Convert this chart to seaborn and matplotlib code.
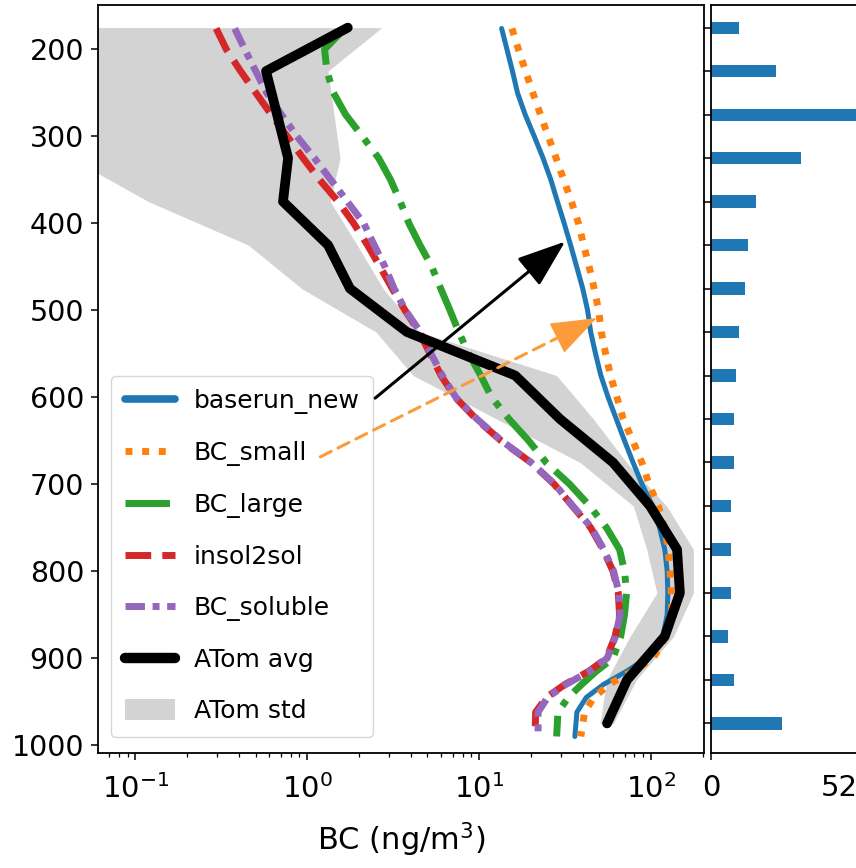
import numpy as np
import pandas as pd
import matplotlib
matplotlib.use("Agg")
import matplotlib.pyplot as plt
import seaborn as sns

# ---------------- data ----------------
model_p = [176, 200, 225, 250, 275, 300, 325, 350, 375, 400, 425, 450, 475, 500,
           525, 550, 575, 600, 625, 650, 675, 700, 725, 750, 775, 800, 825, 850,
           875, 900, 915, 930, 945, 962, 990]
baserun_new = [13.5, 14.5, 15.6, 16.7, 18.5, 20.9, 23.5, 26.1, 28.5, 31.2, 34, 36.9,
               40, 42.7, 44.5, 47.5, 51, 56.2, 62.7, 70, 78.5, 88.5, 102, 112, 120,
               124, 125, 124, 117, 94, 72, 53, 42, 37, 36]
bc_small = [15.5, 16.9, 18.6, 20.5, 22.7, 25.2, 28, 31, 34.4, 37.8, 40.5, 43.6, 46.6,
            49.5, 51.3, 54.4, 58, 63.2, 68.8, 78.2, 88.3, 97.3, 110, 120, 125.6, 129,
            131, 132, 122, 103, 78, 57, 46.5, 41, 39]
bc_large = [1.65, 1.26, 1.3, 1.42, 1.67, 2.09, 2.6, 3.05, 3.47, 3.9, 4.52, 5.3, 5.97,
            6.76, 7.6, 8.7, 10.2, 11.8, 14.9, 19.4, 24.5, 33.6, 43.9, 55, 65.5, 70,
            72, 70, 66.5, 60, 48, 39.5, 33, 28.7, 28.2]
insol2sol = [0.295, 0.338, 0.409, 0.502, 0.617, 0.764, 0.944, 1.18, 1.51, 1.86, 2.24,
             2.65, 3.12, 3.7, 4.48, 5.17, 6.0, 7.25, 9.6, 13.4, 20, 27.3, 34.8, 44.5,
             52.5, 60, 64.4, 65.5, 61.7, 55, 43.4, 31.6, 24.6, 21.3, 21.1]
bc_soluble = [0.378, 0.433, 0.501, 0.58, 0.707, 0.87, 1.1, 1.37, 1.71, 2.13, 2.45,
              2.83, 3.2, 3.72, 4.55, 5.25, 6.1, 7.3, 9.7, 13.5, 20, 27.5, 35, 45, 53,
              60.5, 65, 66, 62, 55.5, 44, 32, 25, 22, 22]

atom_p = [175, 225, 275, 325, 375, 425, 475, 525, 575, 625, 675, 725, 775, 825, 875, 925, 975]
atom_avg = [1.72, 0.575, 0.667, 0.773, 0.722, 1.32, 1.77, 3.80, 16.2, 29.5, 60, 98.5,
            141.5, 147, 120, 72.4, 55.4]
atom_low = [0.01, 0.01, 0.01, 0.042, 0.119, 0.454, 0.927, 2.51, 4.13, 12.6, 38.6, 78.8,
            94.3, 108, 75.4, 55.2, 50.4]
atom_high = [2.71, 1.32, 1.43, 1.55, 1.36, 1.95, 2.76, 4.5, 28.2, 46.1, 72, 123, 176,
             176, 135, 82, 60.3]

hist_counts = [10, 23, 52, 32, 16, 13, 12, 10, 9, 8, 8, 7, 7, 7, 6, 8, 25]
hist_edges = list(range(150, 1001, 50))

series_names = ["baserun_new", "BC_small", "BC_large", "insol2sol", "BC_soluble"]
series_values = [baserun_new, bc_small, bc_large, insol2sol, bc_soluble]

# ---------------- style ----------------
sns.set_style("ticks", {"axes.edgecolor": "black", "xtick.color": "black",
                        "ytick.color": "black", "text.color": "black",
                        "axes.labelcolor": "black"})
plt.rcParams["font.family"] = ["DejaVu Sans"]
plt.rcParams["axes.linewidth"] = 1.3
plt.rcParams["xtick.major.size"] = 5
plt.rcParams["ytick.major.size"] = 5
plt.rcParams["xtick.minor.size"] = 3
plt.rcParams["xtick.major.width"] = 1.1
plt.rcParams["ytick.major.width"] = 1.1
plt.rcParams["xtick.minor.width"] = 0.9

W, H = 856, 868
fig = plt.figure(figsize=(W / 100, H / 100), dpi=100)
ax = fig.add_axes([98 / W, (H - 753) / H, (704 - 98) / W, (753 - 5) / H])
axh = fig.add_axes([711 / W, (H - 753) / H, (W - 711) / W + 0.002, (753 - 5) / H])

ax.set_xscale("log")

# ATom std band
band = ax.fill_betweenx(atom_p, atom_low, atom_high, color="lightgray", lw=0,
                        label="ATom std", zorder=1)

colors = ["#1f77b4", "#ff7f0e", "#2ca02c", "#d62728", "#9467bd"]
styles = ["-", (0, (1, 1.4)), "-.", "--", (0, (2.8, 1.1, 1.0, 1.1))]
widths = [3.6, 5, 5, 5, 5]
for name, vals, c, ls, lw in zip(series_names, series_values, colors, styles, widths):
    df = pd.DataFrame({"BC": vals, "P": model_p})
    sns.lineplot(data=df, x="BC", y="P", orient="y", sort=True, ax=ax, color=c,
                 lw=lw, linestyle=ls, label=name, zorder=2)

dfa = pd.DataFrame({"BC": atom_avg, "P": atom_p})
sns.lineplot(data=dfa, x="BC", y="P", orient="y", ax=ax, color="black", lw=7,
             label="ATom avg", zorder=3)

ax.set_xlim(0.0606, 203)
ax.set_ylim(1009, 149)
ax.set_yticks(range(200, 1001, 100))
ax.tick_params(axis="y", which="major", labelsize=20.5, pad=5)
ax.tick_params(axis="x", which="major", labelsize=21, pad=10)
ax.set_xlabel("BC (ng/m$^3$)", fontsize=22, labelpad=12)
ax.set_ylabel("")

handles, labels = ax.get_legend_handles_labels()
order = series_names + ["ATom avg", "ATom std"]
hmap = dict(zip(labels, handles))
leg = ax.legend([hmap[k] for k in order], order, loc="lower left",
                bbox_to_anchor=(13 / 606, 16 / 748), borderaxespad=0,
                fontsize=18, labelspacing=1.08, handlelength=2.0, borderpad=0.55,
                handletextpad=0.75, handleheight=0.9, frameon=True, fancybox=True,
                framealpha=0.8, edgecolor="0.8")
for ln, w in zip(leg.get_lines(), [5.5, 5, 5, 5, 5, 7.5]):
    ln.set_linewidth(w)

# arrows
head = "-|>,head_length=0.6,head_width=0.22"
ax.annotate("", xy=(31.6, 421), xytext=(2.48, 601),
            arrowprops=dict(arrowstyle=head, mutation_scale=50, lw=2.2,
                            color="black", shrinkA=0, shrinkB=0), zorder=6)
ax.annotate("", xy=(28.3, 532), xytext=(1.19, 668.5),
            arrowprops=dict(arrowstyle="-", lw=2.2, color="#fd9a3a",
                            linestyle=(0, (4, 2.5)), shrinkA=0, shrinkB=0), zorder=6)
ax.annotate("", xy=(48.2, 509), xytext=(28.3, 532),
            arrowprops=dict(arrowstyle=head, mutation_scale=50, lw=1.0,
                            color="#fd9a3a", shrinkA=0, shrinkB=0), zorder=6)

# histogram panel
centers = [(a + b) / 2 for a, b in zip(hist_edges[:-1], hist_edges[1:])]
sns.histplot(y=centers, weights=hist_counts, bins=hist_edges, shrink=0.28,
             color="#1f77b4", alpha=1, edgecolor="none", ax=axh)
axh.set_ylim(1009, 149)
axh.set_yticks(centers)
axh.set_yticklabels([])
axh.tick_params(axis="y", length=6, width=1.1)
axh.set_xlim(0, 52)
axh.set_xticks([0, 52])
axh.set_xticklabels(["0", "52"])
axh.tick_params(axis="x", labelsize=21, pad=10)
axh.get_xticklabels()[1].set_horizontalalignment("right")
axh.spines["right"].set_visible(False)
axh.set_xlabel("")
axh.set_ylabel("")

fig.savefig("out.png", dpi=100)
